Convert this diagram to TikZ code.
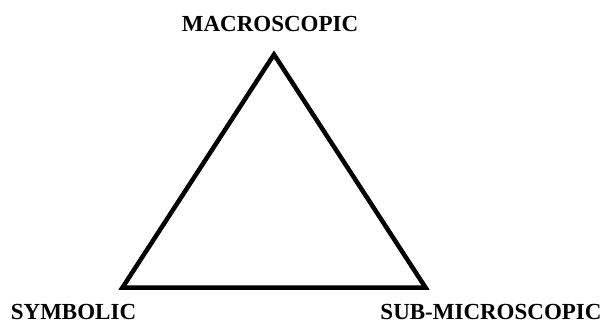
\documentclass[tikz,border=0pt]{standalone}
\usepackage{fontspec}
\setmainfont{Liberation Serif}
\usetikzlibrary{calc}

\begin{document}
\begin{tikzpicture}[x=1pt, y=1pt, every node/.style={font=\fontsize{23}{26}\selectfont\bfseries, inner sep=0pt}]
    \useasboundingbox (0,0) rectangle (605,325);
    % Corners
    \coordinate (top) at (274,270.5);
    \coordinate (left) at (122.5,37.5);
    \coordinate (right) at (425.5,37.5);
    % Labels
    \node (macro) at (270,301) {MACROSCOPIC};
    \node (symbolic) at (73.5,13) {SYMBOLIC};
    \node (submicro) at (491,13) {SUB-MICROSCOPIC};
    % Triangle
    \draw[line width=4.5pt, line join=miter] (top) -- (right) -- (left) -- cycle;
  \end{tikzpicture}
\end{document}
